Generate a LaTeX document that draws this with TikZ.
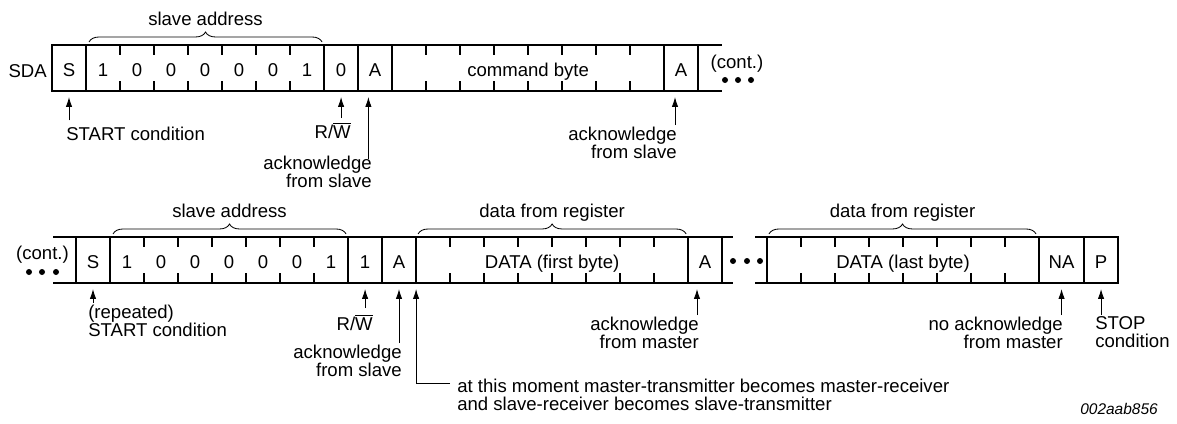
\documentclass[tikz,border=0pt]{standalone}
\usepackage{fontspec}
\setmainfont{Liberation Sans}
\usepackage{tikz}
\usetikzlibrary{positioning, arrows.meta, decorations.pathreplacing}

\begin{document}
\begin{tikzpicture}[x=0.025cm, y=0.025cm, font=\fontsize{13.2pt}{12.8pt}\selectfont]
    % Define the style for the nodes
    \tikzstyle{field} = [rectangle, draw, line width=1.6pt, minimum width=0.85cm, minimum height=1.15cm, inner sep=0pt, outer sep=0pt, text height=11.4pt, text depth=0pt]
    \tikzstyle{bits} = [field, minimum width=5.95cm]
    \tikzstyle{byte} = [field, minimum width=6.8cm]
    \tikzstyle{digit} = [inner sep=0pt, text height=11.4pt, text depth=0pt]
    \tikzstyle{note} = [inner sep=0pt]
    \tikzstyle{edgeline} = [draw, line width=1.6pt]
    \tikzstyle{pointer} = [draw, line width=0.6pt, -{Latex[length=7pt, width=4.5pt]}, shorten >=0.15cm]
    \tikzstyle{groupbrace} = [draw, line width=0.6pt, decorate, decoration={brace, amplitude=0.25cm, raise=0.075cm}]

    \useasboundingbox (0,0) rectangle (1177,423);

    % Place the fields of the first line
    \node [note, anchor=base east] (sda) at (47,346) {SDA};
    \node [field] (s1) at (69,355) {S};
    \node [bits, right=0pt of s1] (addr1) {};
    \node [field, right=0pt of addr1] (rw1) {0};
    \node [field, right=0pt of rw1] (ack1) {A};
    \node [byte, right=0pt of ack1] (cmd) {command byte};
    \node [field, right=0pt of cmd] (ack2) {A};
    \draw [edgeline] (ack2.north east) -- ++(24,0);
    \draw [edgeline] (ack2.south east) -- ++(24,0);
    \node [note, anchor=base] (cont1) at (737,355) {(cont.)};
    \foreach \x in {725,738,751}
        \fill (\x,343) circle (0.075cm);

    % Place the fields of the second line
    \node [note, anchor=base] (cont2) at (42.5,164) {(cont.)};
    \foreach \x in {29,42,56}
        \fill (\x,151) circle (0.075cm);
    \node [field] (rs1) at (93,163) {S};
    \draw [edgeline] (rs1.north west) -- ++(-23,0);
    \draw [edgeline] (rs1.south west) -- ++(-23,0);
    \node [bits, right=0pt of rs1] (addr2) {};
    \node [field, right=0pt of addr2] (rw2) {1};
    \node [field, right=0pt of rw2] (ack3) {A};
    \node [byte, right=0pt of ack3] (data1) {DATA (first byte)};
    \node [field, right=0pt of data1] (ack4) {A};
    \draw [edgeline] (ack4.north east) -- ++(11,0);
    \draw [edgeline] (ack4.south east) -- ++(11,0);
    \foreach \x in {733,747,760}
        \fill (\x,162) circle (0.075cm);
    \node [byte] (data2) at (903,163) {DATA (last byte)};
    \draw [edgeline] (data2.north west) -- ++(-12,0);
    \draw [edgeline] (data2.south west) -- ++(-12,0);
    \node [field, minimum width=1.125cm, right=0pt of data2] (na) {NA};
    \node [field, right=0pt of na] (stop) {P};

    % Address bits and bit ticks
    \foreach \b [count=\i] in {1,0,0,0,0,0,1} {
        \node [digit] (a1bit\i) at ([xshift=\i*0.85cm-0.425cm]addr1.west) {\b};
        \node [digit] (a2bit\i) at ([xshift=\i*0.85cm-0.425cm]addr2.west) {\b};
    }
    \foreach \f/\n in {addr1/6, cmd/7, addr2/6, data1/7, data2/7}
        \foreach \i in {1,...,\n} {
            \draw [edgeline] ([xshift=\i*0.85cm]\f.north west) -- ++(0,-10);
            \draw [edgeline] ([xshift=\i*0.85cm]\f.south west) -- ++(0,10);
        }

    % Braces over the bytes
    \draw [groupbrace] ([xshift=0.075cm]addr1.north west) -- ([xshift=-0.05cm]addr1.north east)
        node [midway, anchor=base, yshift=0.475cm] (addr1lbl) {slave address};
    \draw [groupbrace] ([xshift=0.075cm]addr2.north west) -- ([xshift=-0.05cm]addr2.north east)
        node [midway, anchor=base, yshift=0.475cm] (addr2lbl) {slave address};
    \draw [groupbrace] ([xshift=0.05cm]data1.north west) -- ([xshift=-0.05cm]data1.north east)
        node [midway, anchor=base, yshift=0.475cm] (data1lbl) {data from register};
    \draw [groupbrace] ([xshift=0.05cm]data2.north west) -- ([xshift=-0.075cm]data2.north east)
        node [midway, anchor=base, yshift=0.475cm] (data2lbl) {data from register};

    % Notes under the first line
    \node [note, anchor=base west] (startlbl) at (66,283) {START condition};
    \node [note, anchor=base east] (rw1lbl) at (351,285) {R/$\overline{\mbox{W}}$};
    \node [note, align=right, anchor=north east] (ack1lbl) at (372,267.4) {acknowledge\\from slave};
    \node [note, align=right, anchor=north east] (ack2lbl) at (677,296.4) {acknowledge\\from slave};

    % Notes under the second line
    \node [note, align=left, anchor=north west] (rstartlbl) at (88,118.5) {(repeated)\\START condition};
    \node [note, anchor=base east] (rw2lbl) at (373,93) {R/$\overline{\mbox{W}}$};
    \node [note, align=right, anchor=north east] (ack3lbl) at (402,78.4) {acknowledge\\from slave};
    \node [note, align=left, anchor=north west] (momentlbl) at (457,44.4) {at this moment master-transmitter becomes master-receiver\\and slave-receiver becomes slave-transmitter};
    \node [note, align=right, anchor=north east] (ack4lbl) at (699,106.4) {acknowledge\\from master};
    \node [note, align=right, anchor=north east] (nalbl) at (1063,106.4) {no acknowledge\\from master};
    \node [note, align=left, anchor=north west] (stoplbl) at (1095,106.4) {STOP\\condition};
    \node [note, anchor=base east, font=\fontsize{11pt}{13pt}\selectfont\itshape] (figid) at (1158,9) {002aab856};

    % Connect the notes with the fields
    \draw [pointer] ([yshift=0.15cm]startlbl.north -| s1.south) -- (s1.south);
    \draw [pointer] ([yshift=0.1cm]rw1lbl.north -| rw1.south) -- (rw1.south);
    \draw [pointer] ([shift={(-0.09cm,-0.08cm)}]ack1lbl.north east) -- ([xshift=-0.09cm]ack1lbl.north east |- ack1.south);
    \draw [pointer] ([shift={(-0.05cm,0.04cm)}]ack2lbl.north east) -- ([xshift=-0.05cm]ack2lbl.north east |- ack2.south);
    \draw [pointer] ([yshift=0.04cm]rstartlbl.north -| rs1.south) -- (rs1.south);
    \draw [pointer] ([yshift=0.15cm]rw2lbl.north -| rw2.south) -- (rw2.south);
    \draw [pointer] ([shift={(-0.075cm,0.04cm)}]ack3lbl.north east) -- ([xshift=-0.075cm]ack3lbl.north east |- ack3.south);
    \coordinate (turn) at ([shift={(-0.175cm,-0.11cm)}]momentlbl.north west);
    \draw [pointer] (turn) -- (turn -| data1.south west) -- (data1.south west);
    \draw [pointer] ([shift={(-0.05cm,0.04cm)}]ack4lbl.north east) -- ([xshift=-0.05cm]ack4lbl.north east |- ack4.south);
    \draw [pointer] ([yshift=0.04cm]nalbl.north -| na.south) -- (na.south);
    \draw [pointer] ([yshift=0.04cm]stoplbl.north -| stop.south) -- (stop.south);
\end{tikzpicture}
\end{document}
